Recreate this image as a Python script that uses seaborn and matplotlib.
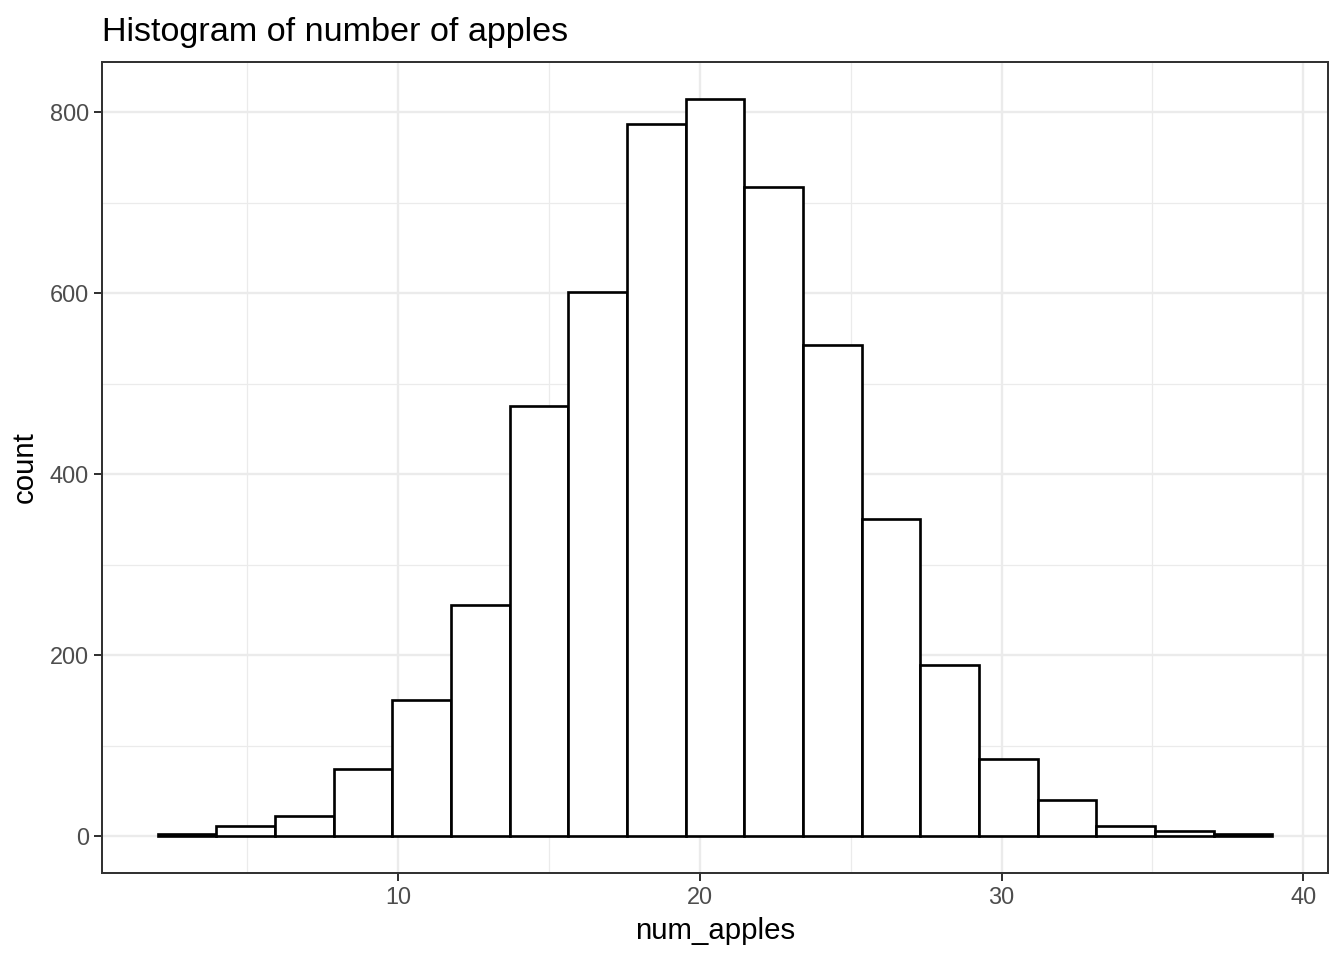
import numpy as np
import pandas as pd
import matplotlib
matplotlib.use("Agg")
import matplotlib.pyplot as plt
import seaborn as sns
from matplotlib.ticker import MultipleLocator

# Histogram bins
bin_lo = 2.03
bin_hi = 38.97
n_bins = 19
counts = [2, 11, 22, 74, 150, 255, 476, 601, 787, 815,
          718, 543, 351, 189, 85, 40, 11, 6, 2]

edges = np.linspace(bin_lo, bin_hi, n_bins + 1)
df = pd.DataFrame({"num_apples": (edges[:-1] + edges[1:]) / 2, "n": counts})

sns.set_theme(style="whitegrid")
plt.rcParams["font.family"] = ["Liberation Sans", "DejaVu Sans"]

fig = plt.figure(figsize=(7, 5), dpi=192)
ax = fig.add_axes([102 / 1344, 1 - 873 / 960, (1328 - 102) / 1344, (873 - 62) / 960])

sns.histplot(data=df, x="num_apples", weights="n", bins=list(edges), ax=ax,
             color="white", edgecolor="black", linewidth=1.0, alpha=1)

ax.set_xlim(0.18, 40.82)
ax.set_ylim(-40.75, 855.75)
ax.xaxis.set_major_locator(MultipleLocator(10))
ax.xaxis.set_minor_locator(MultipleLocator(5))
ax.yaxis.set_major_locator(MultipleLocator(200))
ax.yaxis.set_minor_locator(MultipleLocator(100))

ax.set_facecolor("white")
ax.grid(which="major", color="#ebebeb", linewidth=0.9)
ax.grid(which="minor", color="#ebebeb", linewidth=0.45)
ax.set_axisbelow(True)
for s in ax.spines.values():
    s.set_color("#333333")
    s.set_linewidth(0.75)
    s.set_visible(True)

ax.tick_params(which="major", length=3, width=0.75, color="#333333",
               labelsize=8.8, labelcolor="#4d4d4d", pad=2, bottom=True, left=True)
ax.tick_params(which="minor", length=0)

ax.set_xlabel("num_apples", fontsize=11, color="black", labelpad=3)
ax.set_ylabel("count", fontsize=11, color="black", labelpad=4)
ax.set_title("Histogram of number of apples", fontsize=12.8, loc="left",
             color="black", pad=8)

fig.savefig("out.png", dpi=192)
plt.close()
